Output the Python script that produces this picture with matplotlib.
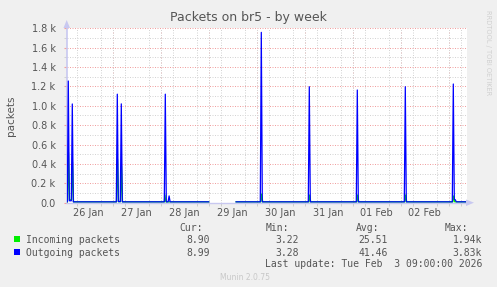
import matplotlib
matplotlib.use("Agg")
import matplotlib.pyplot as plt
from matplotlib.patches import Rectangle, Polygon
import numpy as np

W, H = 497, 287

# hours since 26 Jan 00:00, 30 min steps, window 26 Jan 01:00 .. 03 Feb 09:00
x_range = (1.0, 201.0)
day_labels = ["26 Jan", "27 Jan", "28 Jan", "29 Jan", "30 Jan", "31 Jan", "01 Feb", "02 Feb"]
day_noon = [12, 36, 60, 84, 108, 132, 156, 180]
midnights = [24, 48, 72, 96, 120, 144, 168, 192]

ytick_vals = [0, 200, 400, 600, 800, 1000, 1200, 1400, 1600, 1800]
ytick_labels = ["0.0", "0.2 k", "0.4 k", "0.6 k", "0.8 k", "1.0 k",
                "1.2 k", "1.4 k", "1.6 k", "1.8 k"]

# outgoing packets (blue); nan = no data
out_h = [1.0, 1.3, 1.8, 2.3, 3.3, 3.8, 4.3, 25.8, 26.3, 26.8, 27.8, 28.3, 28.8,
         49.8, 50.3, 50.8, 51.7, 52.2, 52.7, 72.0, 72.1, 85.7, 97.8, 98.3, 98.8,
         121.8, 122.3, 122.8, 145.8, 146.3, 146.8, 169.8, 170.3, 170.8,
         193.8, 194.3, 194.8, 195.3, 195.8, 201.0]
out_v = [9, 9, 1256, 20, 20, 1019, 9, 9, 1120, 12, 12, 1020, 9,
         9, 1120, 9, 9, 70, 9, 9, np.nan, 9, 9, 1758, 9,
         9, 1197, 9, 9, 1163, 9, 9, 1197, 9,
         9, 1225, 35, 30, 9, 9]

# incoming packets (green)
in_h = [1.0, 1.4, 1.9, 2.4, 3.4, 3.9, 4.4, 25.9, 26.4, 26.9, 27.9, 28.4, 28.9,
        49.8, 50.1, 50.6, 72.0, 72.1, 85.7, 98.1, 98.5, 99.0,
        122.1, 122.5, 123.0, 146.1, 146.5, 147.0, 170.1, 170.5, 171.0,
        194.1, 194.5, 195.0, 201.0]
in_v = [9, 9, 520, 30, 30, 420, 9, 9, 450, 10, 10, 380, 9,
        9, 80, 9, 9, np.nan, 9, 9, 90, 9,
        9, 80, 9, 9, 80, 9, 9, 80, 9,
        9, 70, 9, 9]

legend_names = ["Incoming packets", "Outgoing packets"]
legend_colors = ["#00ee00", "#0000ff"]
cur_vals = ["8.90", "8.99"]
min_vals = ["3.22", "3.28"]
avg_vals = ["25.51", "41.46"]
max_vals = ["1.94k", "3.83k"]

text_c = "#555555"
fig = plt.figure(figsize=(W / 100, H / 100), dpi=100, facecolor="#f0f0f0")
ax = fig.add_axes([66.7 / W, (H - 202.7) / H, 400 / W, 174.4 / H])
ax.set_facecolor("white")

ax.set_xlim(*x_range)
ax.set_ylim(0, 1800)

ax.set_xticks(day_noon, day_labels)
ax.set_xticks(np.arange(6, 201, 6), minor=True)
ax.set_yticks(ytick_vals, ytick_labels)
ax.set_yticks(np.arange(100, 1800, 200), minor=True)
ax.tick_params(axis="x", which="major", length=0, pad=4, labelsize=7, labelcolor=text_c)
ax.tick_params(axis="x", which="minor", length=2, color="#cccccc", width=0.7)
ax.tick_params(axis="y", which="major", length=2, color="#f0a0a0", pad=6,
               labelsize=7, labelcolor=text_c)
ax.tick_params(axis="y", which="minor", length=2, color="#cccccc")

dot = (0, (1, 1.5))
ax.grid(True, axis="x", which="minor", color="#d4d4d4", lw=0.72, ls=dot)
ax.grid(True, axis="y", which="minor", color="#d4d4d4", lw=0.72, ls=dot)
ax.grid(True, axis="y", which="major", color="#f0a0a0", lw=0.72, ls=dot)
for m in midnights:
    ax.axvline(m, color="#f0a0a0", lw=0.72, ls=dot, zorder=0.5)
ax.set_axisbelow(True)

for s in ["top", "right"]:
    ax.spines[s].set_visible(False)
ax.spines["left"].set_color("#c8c8f0")
ax.spines["left"].set_linewidth(1.2)
ax.spines["bottom"].set_color("#c8c8f0")
ax.spines["bottom"].set_linewidth(1.0)

ax.plot(in_h, in_v, color=legend_colors[0], lw=0.9, zorder=3)
ax.plot(out_h, out_v, color=legend_colors[1], lw=0.9, zorder=4)


def px(x, y):
    return (x / W, 1 - y / H)


# axis arrows
fig.add_artist(Polygon([px(63.5, 28), px(70, 28), px(66.7, 20)], closed=True,
                       transform=fig.transFigure, color="#c8c8f0", lw=0))
fig.add_artist(Polygon([px(466, 199.5), px(466, 206), px(474, 202.7)], closed=True,
                       transform=fig.transFigure, color="#c8c8f0", lw=0))

fig.text(0.5, 1 - 18 / H, "Packets on br5 - by week", ha="center", va="center",
         fontsize=9, color=text_c)
fig.text(11 / W, 1 - 116 / H, "packets", rotation=90, ha="center", va="center",
         fontsize=7.5, color=text_c)
fig.text(488 / W, 1 - 53 / H, "RRDTOOL / TOBI OETIKER", rotation=270, ha="center",
         va="center", fontsize=4.8, color="#d0d0d0")

mono = dict(family="DejaVu Sans Mono", fontsize=7, color=text_c, va="baseline")
header_y = 230.7
row_y = [243.3, 255.5]
fig.text(*px(203, header_y), "Cur:", ha="right", **mono)
fig.text(*px(289, header_y), "Min:", ha="right", **mono)
fig.text(*px(379, header_y), "Avg:", ha="right", **mono)
fig.text(*px(468, header_y), "Max:", ha="right", **mono)
for i in range(2):
    y = row_y[i]
    fig.add_artist(Rectangle(px(14, y - 1), 6 / W, 6 / H, transform=fig.transFigure,
                             color=legend_colors[i], lw=0))
    fig.text(*px(26, y), legend_names[i], ha="left", **mono)
    fig.text(*px(210, y), cur_vals[i], ha="right", **mono)
    fig.text(*px(299, y), min_vals[i], ha="right", **mono)
    fig.text(*px(388, y), avg_vals[i], ha="right", **mono)
    fig.text(*px(482, y), max_vals[i], ha="right", **mono)
fig.text(*px(482, 267), "Last update: Tue Feb  3 09:00:00 2026", ha="right", **mono)
fig.text(*px(245, 277), "Munin 2.0.75", ha="center", va="center", fontsize=5.5,
         color="#c8c8c8")

fig.savefig("out.png", dpi=100, facecolor=fig.get_facecolor())
